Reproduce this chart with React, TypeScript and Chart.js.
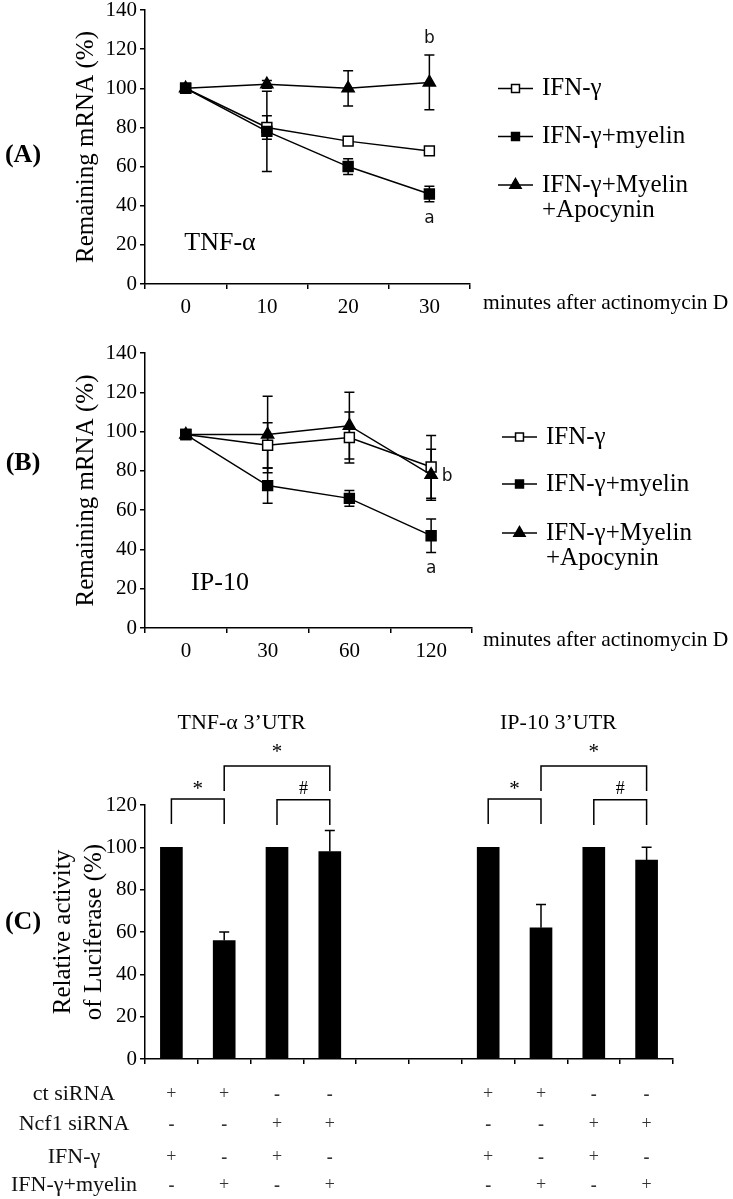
import React, { useEffect, useRef } from 'react';
import { Chart, registerables } from 'chart.js';

Chart.register(...registerables);

const SERIF = '"Liberation Serif", "Times New Roman", Times, serif';
const SANS = '"DejaVu Sans", Verdana, sans-serif';
const W = 733;

// ---------------- Panel A : TNF-α mRNA decay ----------------
const tnfTimes = ['0', '10', '20', '30'];
const tnfIfn = [100, 80, 73, 68];
const tnfIfnErr = [0, 6, 1, 2];
const tnfMyelin = [100, 78, 60, 46];
const tnfMyelinErr = [0, 20.5, 4, 4];
const tnfApocynin = [100, 102, 100, 103];
const tnfApocyninErr = [0, 2, 9, 14];
const tnfNotes = [
  { text: 'b', index: 3, value: 125.5 },
  { text: 'a', index: 3, value: 33.5 },
];

// ---------------- Panel B : IP-10 mRNA decay ----------------
const ip10Times = ['0', '30', '60', '120'];
const ip10Ifn = [98.5, 93, 97, 82];
const ip10IfnErr = [0, 11.5, 13, 16];
const ip10Myelin = [98.5, 72.5, 66, 47];
const ip10MyelinErr = [0, 9, 4, 8.5];
const ip10Apocynin = [98.5, 98.5, 103, 78];
const ip10ApocyninErr = [0, 19.5, 17, 13];
const ip10Notes = [
  { text: 'b', index: 3, value: 77 },
  { text: 'a', index: 3, value: 30 },
];

const seriesNames = ['IFN-γ', 'IFN-γ+myelin', 'IFN-γ+Myelin\n+Apocynin'];

// ---------------- Panel C : luciferase reporter ----------------
const barSlots = ['TNF-1', 'TNF-2', 'TNF-3', 'TNF-4', 'gap-1', 'gap-2', 'IP10-1', 'IP10-2', 'IP10-3', 'IP10-4'];
const luciferase = [100, 56, 100, 98, null, null, 100, 62, 100, 94];
const luciferaseErr = [0, 4, 0, 10, 0, 0, 0, 11, 0, 6];
const groupStarts = [0, 6];
const groupTitles = ['TNF-α 3’UTR', 'IP-10 3’UTR'];
// brackets: bar indices within a group, bracket top / leg end in axis units, mark and its level
const bracketFrom = [0, 1, 2];
const bracketTo = [1, 3, 3];
const bracketTop = [122.8, 138.4, 122.5];
const bracketLegEnd = [111, 126.6, 110.5];
const bracketMarks = ['*', '*', '#'];
const bracketMarkLevel = [127.5, 145, 127.5];

const conditionNames = ['ct siRNA', 'Ncf1 siRNA', 'IFN-γ', 'IFN-γ+myelin'];
const ctSiRNA = ['+', '+', '-', '-'];
const ncf1SiRNA = ['-', '-', '+', '+'];
const ifnGamma = ['+', '-', '+', '-'];
const ifnGammaMyelin = ['-', '+', '-', '+'];
const conditionSigns = [ctSiRNA, ncf1SiRNA, ifnGamma, ifnGammaMyelin];

// ---------------- helpers ----------------
function drawMarker(ctx: CanvasRenderingContext2D, style: string, x: number, y: number, r: number, fill: string) {
  ctx.beginPath();
  if (style === 'rect') {
    const s = r * Math.SQRT1_2;
    ctx.rect(x - s, y - s, 2 * s, 2 * s);
  } else {
    ctx.moveTo(x, y - r);
    ctx.lineTo(x + r * 0.866, y + r * 0.5);
    ctx.lineTo(x - r * 0.866, y + r * 0.5);
    ctx.closePath();
  }
  ctx.fillStyle = fill;
  ctx.fill();
  ctx.strokeStyle = '#000';
  ctx.lineWidth = 1.5;
  ctx.stroke();
}

const seriesStyle = [
  { pointStyle: 'rect', fill: '#ffffff', order: 2 },
  { pointStyle: 'rect', fill: '#000000', order: 0 },
  { pointStyle: 'triangle', fill: '#000000', order: 1 },
];

type LinePanel = {
  offY: number;
  height: number;
  areaTop: number;
  areaBottom: number;
  areaRight: number;
  labels: string[];
  values: number[][];
  errors: number[][];
  panel: string;
  panelY: number;
  gene: string;
  geneY: number;
  xTitleY: number;
  legendX: number;
  legendRows: number[];
  notes: { text: string; index: number; value: number }[];
  noteDx: number[];
};

function buildLine(p: LinePanel): any {
  const Y = (y: number) => y - p.offY;
  const datasets = p.values.map((v, i) => ({
    label: seriesNames[i],
    data: v,
    borderColor: '#000',
    borderWidth: 1.5,
    pointStyle: seriesStyle[i].pointStyle,
    pointRadius: 7,
    pointHoverRadius: 7,
    pointBackgroundColor: seriesStyle[i].fill,
    pointBorderColor: '#000',
    pointBorderWidth: 1.5,
    order: seriesStyle[i].order,
    tension: 0,
    fill: false,
  }));
  const plugin = {
    id: 'panelExtras',
    beforeDatasetsDraw(chart: any) {
      const ctx = chart.ctx as CanvasRenderingContext2D;
      const ys = chart.scales.y;
      ctx.save();
      ctx.strokeStyle = '#000';
      ctx.lineWidth = 1.5;
      p.values.forEach((vals, i) => {
        const meta = chart.getDatasetMeta(i);
        vals.forEach((v, j) => {
          const e = p.errors[i][j];
          if (!e) return;
          const x = meta.data[j].x;
          const y1 = ys.getPixelForValue(v + e);
          const y2 = ys.getPixelForValue(v - e);
          ctx.beginPath();
          ctx.moveTo(x, y1);
          ctx.lineTo(x, y2);
          ctx.moveTo(x - 5, y1);
          ctx.lineTo(x + 5, y1);
          ctx.moveTo(x - 5, y2);
          ctx.lineTo(x + 5, y2);
          ctx.stroke();
        });
      });
      ctx.restore();
    },
    afterDraw(chart: any) {
      const ctx = chart.ctx as CanvasRenderingContext2D;
      const xs = chart.scales.x;
      const ys = chart.scales.y;
      ctx.save();
      // legend
      seriesNames.forEach((name, i) => {
        const y = Y(p.legendRows[i]);
        ctx.strokeStyle = '#000';
        ctx.lineWidth = 1.5;
        ctx.beginPath();
        ctx.moveTo(p.legendX, y);
        ctx.lineTo(p.legendX + 35, y);
        ctx.stroke();
        drawMarker(ctx, seriesStyle[i].pointStyle, p.legendX + 17.5, y, seriesStyle[i].pointStyle === 'rect' ? 5.6 : 6.5, seriesStyle[i].fill);
        ctx.fillStyle = '#000';
        ctx.font = `25px ${SERIF}`;
        ctx.textAlign = 'left';
        ctx.textBaseline = 'middle';
        name.split('\n').forEach((line, k) => ctx.fillText(line, p.legendX + 44, y + k * 25.5));
      });
      // panel letter
      ctx.font = `bold 26px ${SERIF}`;
      ctx.textAlign = 'center';
      ctx.fillText(p.panel, 23, Y(p.panelY));
      // gene name
      ctx.font = `26px ${SERIF}`;
      ctx.fillText(p.gene, 220, Y(p.geneY));
      // x axis title
      ctx.font = `21.5px ${SERIF}`;
      ctx.textAlign = 'left';
      ctx.fillText('minutes after actinomycin D', 483, Y(p.xTitleY));
      // significance letters
      ctx.font = `17px ${SANS}`;
      ctx.textAlign = 'center';
      ctx.fillStyle = '#111';
      p.notes.forEach((n, k) => {
        ctx.fillText(n.text, xs.getPixelForValue(n.index) + p.noteDx[k], ys.getPixelForValue(n.value));
      });
      ctx.restore();
    },
  };
  return {
    type: 'line',
    data: { labels: p.labels, datasets },
    options: {
      responsive: false,
      animation: false,
      devicePixelRatio: 1,
      events: [],
      layout: { padding: { left: 60, right: W - p.areaRight, top: p.areaTop - p.offY, bottom: 0 } },
      plugins: { legend: { display: false }, tooltip: { enabled: false } },
      scales: {
        x: {
          type: 'category',
          offset: true,
          grid: { offset: true, drawOnChartArea: false, drawTicks: true, tickLength: 5, color: '#000', lineWidth: 1.5 },
          border: { display: true, color: '#000', width: 1.5 },
          ticks: { font: { family: SERIF, size: 21 }, color: '#000', padding: 6, maxRotation: 0, autoSkip: false },
          afterFit: (s: any) => {
            s.height = p.height - (p.areaBottom - p.offY);
          },
        },
        y: {
          min: 0,
          max: 140,
          ticks: { stepSize: 20, font: { family: SERIF, size: 21 }, color: '#000', padding: 3 },
          grid: { drawOnChartArea: false, drawTicks: true, tickLength: 5, color: '#000', lineWidth: 1.5 },
          border: { display: true, color: '#000', width: 1.5 },
          title: {
            display: true,
            text: 'Remaining mRNA (%)',
            font: { family: SERIF, size: 25 },
            color: '#000',
            padding: { top: 11, bottom: 0 },
          },
          afterFit: (s: any) => {
            s.width = 145 - 60;
          },
        },
      },
    },
    plugins: [plugin],
  };
}

function buildBars(): any {
  const offY = 670;
  const height = 529;
  const areaTop = 805;
  const areaBottom = 1059;
  const areaRight = 673;
  const Y = (y: number) => y - offY;
  const plugin = {
    id: 'luciferaseExtras',
    afterDatasetsDraw(chart: any) {
      const ctx = chart.ctx as CanvasRenderingContext2D;
      const xs = chart.scales.x;
      const ys = chart.scales.y;
      ctx.save();
      ctx.strokeStyle = '#000';
      ctx.lineWidth = 1.5;
      luciferase.forEach((v, j) => {
        const e = luciferaseErr[j];
        if (v === null || !e) return;
        const x = xs.getPixelForValue(j);
        const y0 = ys.getPixelForValue(v);
        const y1 = ys.getPixelForValue(v + e);
        ctx.beginPath();
        ctx.moveTo(x, y0);
        ctx.lineTo(x, y1);
        ctx.moveTo(x - 5, y1);
        ctx.lineTo(x + 5, y1);
        ctx.stroke();
      });
      ctx.restore();
    },
    afterDraw(chart: any) {
      const ctx = chart.ctx as CanvasRenderingContext2D;
      const xs = chart.scales.x;
      const ys = chart.scales.y;
      ctx.save();
      ctx.fillStyle = '#000';
      ctx.textBaseline = 'middle';
      ctx.textAlign = 'center';
      // group titles
      ctx.font = `22px ${SERIF}`;
      groupTitles.forEach((t, g) => {
        const cx = (xs.getPixelForValue(groupStarts[g]) + xs.getPixelForValue(groupStarts[g] + 3)) / 2 - 9;
        ctx.fillText(t, cx, Y(723));
      });
      // brackets
      ctx.strokeStyle = '#000';
      ctx.lineWidth = 1.5;
      groupStarts.forEach((g0) => {
        bracketFrom.forEach((f, k) => {
          const x1 = xs.getPixelForValue(g0 + f);
          const x2 = xs.getPixelForValue(g0 + bracketTo[k]);
          const yt = ys.getPixelForValue(bracketTop[k]);
          const yl = ys.getPixelForValue(bracketLegEnd[k]);
          ctx.beginPath();
          ctx.moveTo(x1, yl);
          ctx.lineTo(x1, yt);
          ctx.lineTo(x2, yt);
          ctx.lineTo(x2, yl);
          ctx.stroke();
          ctx.font = bracketMarks[k] === '#' ? `18px ${SERIF}` : `21px ${SERIF}`;
          ctx.fillText(bracketMarks[k], (x1 + x2) / 2, ys.getPixelForValue(bracketMarkLevel[k]));
        });
      });
      // panel letter
      ctx.font = `bold 26px ${SERIF}`;
      ctx.fillText('(C)', 23, Y(922));
      // condition table
      const rowsY = [1094, 1124, 1157, 1185];
      conditionNames.forEach((name, r) => {
        ctx.font = `22px ${SERIF}`;
        ctx.textAlign = 'center';
        ctx.fillStyle = '#111';
        ctx.fillText(name, 74, Y(rowsY[r]));
        groupStarts.forEach((g0) => {
          conditionSigns[r].forEach((s, k) => {
            const x = xs.getPixelForValue(g0 + k);
            ctx.fillStyle = '#333';
            ctx.font = s === '+' ? `18px ${SERIF}` : `bold 18px ${SERIF}`;
            ctx.fillText(s, x, Y(rowsY[r]) + (s === '-' ? 1 : 0));
          });
        });
      });
      ctx.restore();
    },
  };
  return {
    type: 'bar',
    data: {
      labels: barSlots,
      datasets: [
        {
          label: 'Relative activity of Luciferase (%)',
          data: luciferase,
          backgroundColor: '#000',
          borderWidth: 0,
          barThickness: 22,
        },
      ],
    },
    options: {
      responsive: false,
      animation: false,
      devicePixelRatio: 1,
      events: [],
      layout: { padding: { left: 40, right: W - areaRight, top: areaTop - offY, bottom: 0 } },
      plugins: { legend: { display: false }, tooltip: { enabled: false } },
      scales: {
        x: {
          type: 'category',
          offset: true,
          grid: { offset: true, drawOnChartArea: false, drawTicks: true, tickLength: 5, color: '#000', lineWidth: 1.5 },
          border: { display: true, color: '#000', width: 1.5 },
          ticks: { display: false },
          afterFit: (s: any) => {
            s.height = height - (areaBottom - offY);
          },
        },
        y: {
          min: 0,
          max: 120,
          ticks: { stepSize: 20, font: { family: SERIF, size: 21 }, color: '#000', padding: 3 },
          grid: { drawOnChartArea: false, drawTicks: true, tickLength: 5, color: '#000', lineWidth: 1.5 },
          border: { display: true, color: '#000', width: 1.5 },
          title: {
            display: true,
            text: ['Relative activity', 'of Luciferase (%)'],
            font: { family: SERIF, size: 25, lineHeight: 1.24 },
            color: '#000',
            padding: { top: 8, bottom: 0 },
          },
          afterFit: (s: any) => {
            s.width = 145 - 40;
          },
        },
      },
    },
    plugins: [plugin],
  };
}

function ChartCanvas({ top, height, build }: { top: number; height: number; build: () => any }) {
  const ref = useRef<HTMLCanvasElement>(null);
  useEffect(() => {
    const chart = new Chart(ref.current as HTMLCanvasElement, build());
    return () => chart.destroy();
  }, []);
  return (
    <canvas
      ref={ref}
      width={W}
      height={height}
      style={{ position: 'absolute', left: 0, top, width: W, height, display: 'block' }}
    />
  );
}

export default function App() {
  const panelA: LinePanel = {
    offY: -20,
    height: 350,
    areaTop: 10,
    areaBottom: 284,
    areaRight: 470,
    labels: tnfTimes,
    values: [tnfIfn, tnfMyelin, tnfApocynin],
    errors: [tnfIfnErr, tnfMyelinErr, tnfApocyninErr],
    panel: '(A)',
    panelY: 155,
    gene: 'TNF-α',
    geneY: 243,
    xTitleY: 303,
    legendX: 498,
    legendRows: [88.5, 136.5, 185],
    notes: tnfNotes,
    noteDx: [0, 0],
  };
  const panelB: LinePanel = {
    offY: 330,
    height: 340,
    areaTop: 353,
    areaBottom: 628,
    areaRight: 472,
    labels: ip10Times,
    values: [ip10Ifn, ip10Myelin, ip10Apocynin],
    errors: [ip10IfnErr, ip10MyelinErr, ip10ApocyninErr],
    panel: '(B)',
    panelY: 463,
    gene: 'IP-10',
    geneY: 583,
    xTitleY: 640,
    legendX: 502,
    legendRows: [437, 484, 533],
    notes: ip10Notes,
    noteDx: [16, 0],
  };
  return (
    <div style={{ position: 'absolute', left: 0, top: 0, width: W, height: 1199, background: '#fff', overflow: 'hidden' }}>
      <ChartCanvas top={-20} height={350} build={() => buildLine(panelA)} />
      <ChartCanvas top={330} height={340} build={() => buildLine(panelB)} />
      <ChartCanvas top={670} height={529} build={buildBars} />
    </div>
  );
}
